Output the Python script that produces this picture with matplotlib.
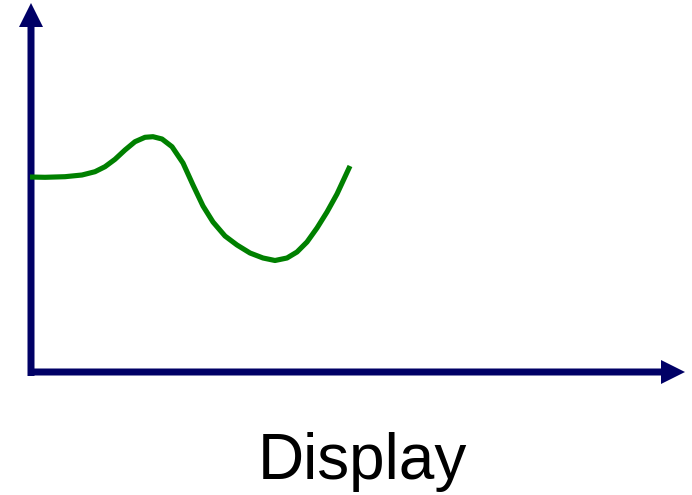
import matplotlib.pyplot as plt

# curve points (pixel coords, y grows downward)
curve_x = [30, 45, 65, 82, 95, 105, 115, 125, 135, 145, 153, 162, 172, 183, 193,
           203, 213, 225, 237, 250, 263, 275, 287, 297, 307, 317, 327, 337, 350]
curve_y = [177, 177.3, 176.7, 175, 171.7, 166.7, 159.3, 150, 141.7, 137.3, 136.7, 139, 146.7, 163, 185,
           206, 222, 236, 245, 253, 258, 260.5, 258, 252, 242, 228, 212, 194, 166]
label = "Display"

navy = "#000066"
green = "#008000"

fig = plt.figure(figsize=(6.92, 4.95), dpi=100)
ax = fig.add_axes([0, 0, 1, 1])
ax.set_xlim(0, 692)
ax.set_ylim(495, 0)
ax.axis("off")

# axes arrows
ax.arrow(31, 376, 0, -373, width=7, head_width=24, head_length=24,
         length_includes_head=True, color=navy, lw=0)
ax.arrow(28, 372, 657, 0, width=7, head_width=24, head_length=24,
         length_includes_head=True, color=navy, lw=0)

ax.plot(curve_x, curve_y, color=green, lw=3.7, solid_capstyle="butt",
        solid_joinstyle="round")

ax.text(362, 462, label, fontsize=46, family="Liberation Sans",
        ha="center", va="center", color="black")

fig.savefig("out.png", dpi=100)
